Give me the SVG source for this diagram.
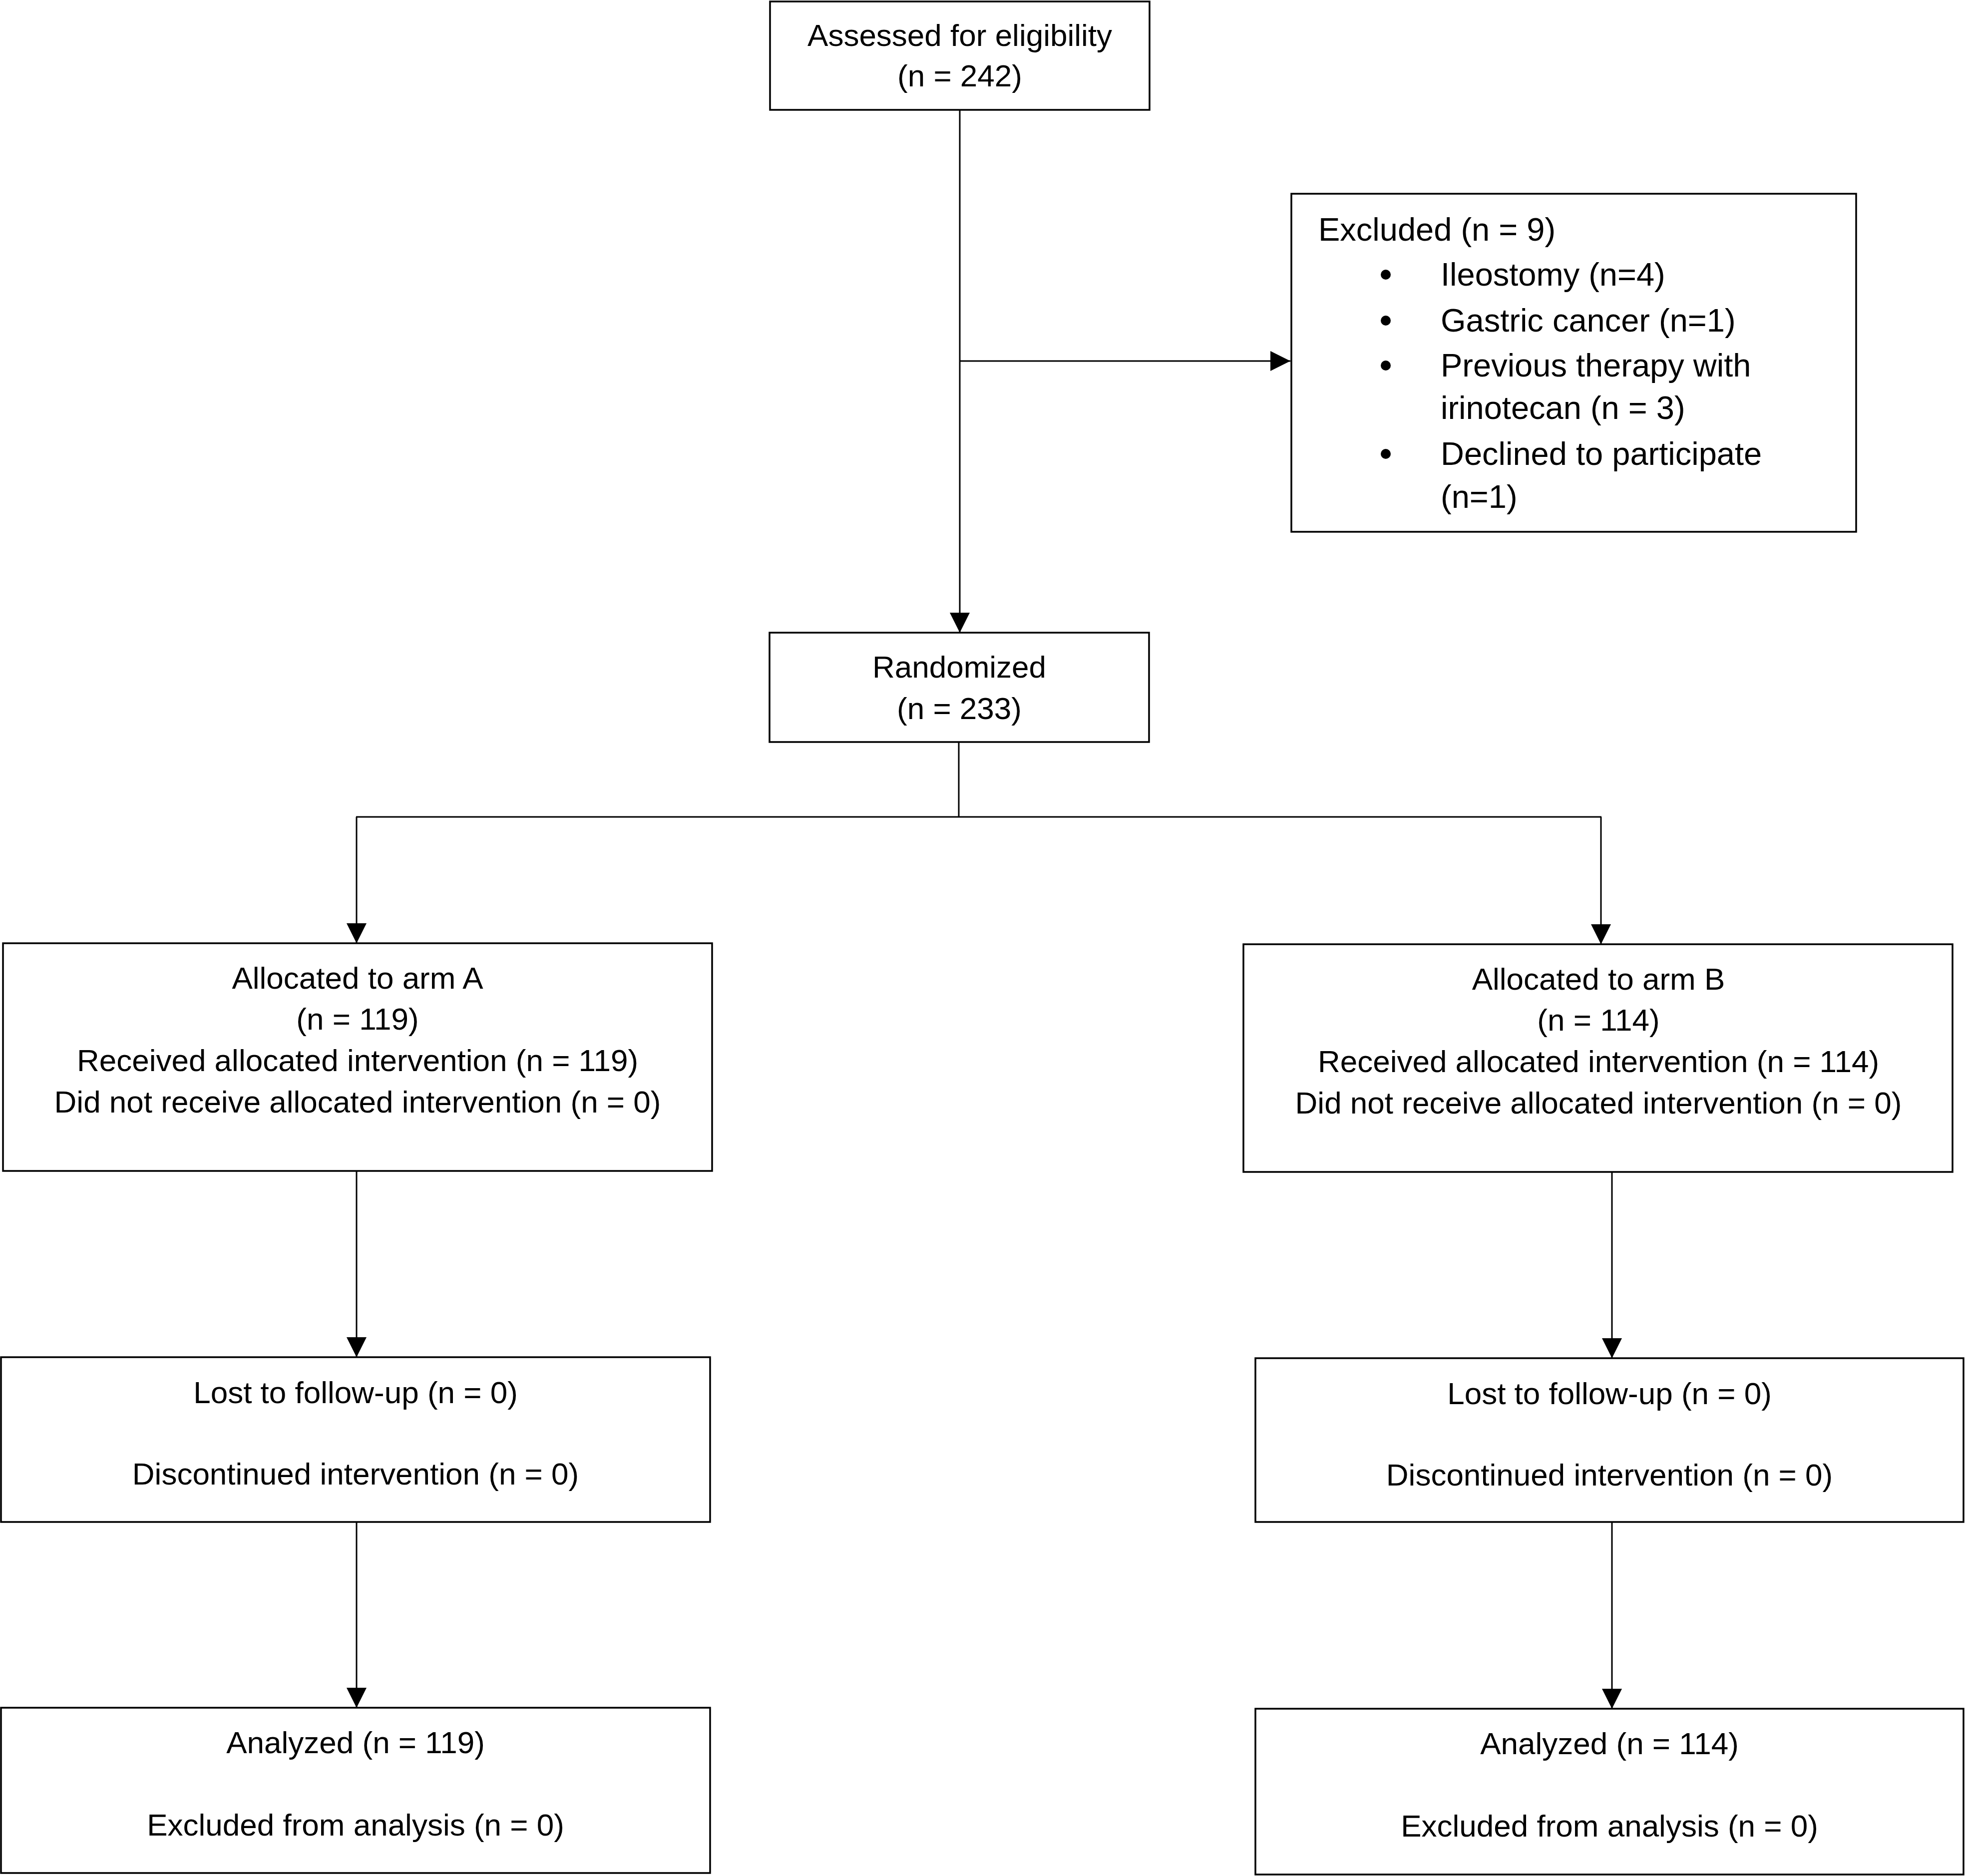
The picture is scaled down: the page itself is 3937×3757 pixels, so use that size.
<svg xmlns="http://www.w3.org/2000/svg" width="3937" height="3757" viewBox="0 0 3937 3757">
  <style>
    .box { fill: #ffffff; stroke: #000000; stroke-width: 3.5; }
    .conn { fill: none; stroke: #000000; stroke-width: 3; }
    .t { font-family: "Liberation Sans", Arial, sans-serif; font-size: 62px; fill: #000000; text-anchor: middle; }
    .tl { font-family: "Liberation Sans", Arial, sans-serif; font-size: 65px; fill: #000000; text-anchor: start; }
    .bullet { fill: #000000; }
  </style>
  <defs>
    <marker id="arrow" markerUnits="userSpaceOnUse" viewBox="0 0 40 40" markerWidth="40" markerHeight="40" refX="40" refY="20" orient="auto">
      <path d="M0,0 L40,20 L0,40 Z" fill="#000000"/>
    </marker>
  </defs>
  <rect x="0" y="0" width="3937" height="3757" fill="#ffffff"/>

  <g id="connectors">
    <line class="conn" x1="1922" y1="220" x2="1922" y2="1267" marker-end="url(#arrow)"/>
    <line class="conn" x1="1922" y1="723" x2="2584" y2="723" marker-end="url(#arrow)"/>
    <line class="conn" x1="1920" y1="1486" x2="1920" y2="1636"/>
    <line class="conn" x1="713" y1="1636" x2="3207" y2="1636"/>
    <line class="conn" x1="714" y1="1636" x2="714" y2="1889" marker-end="url(#arrow)"/>
    <line class="conn" x1="3206" y1="1636" x2="3206" y2="1891" marker-end="url(#arrow)"/>
    <line class="conn" x1="714" y1="2345" x2="714" y2="2718" marker-end="url(#arrow)"/>
    <line class="conn" x1="714" y1="3048" x2="714" y2="3420" marker-end="url(#arrow)"/>
    <line class="conn" x1="3228" y1="2347" x2="3228" y2="2720" marker-end="url(#arrow)"/>
    <line class="conn" x1="3228" y1="3048" x2="3228" y2="3422" marker-end="url(#arrow)"/>
  </g>

  <g id="assessed">
    <rect class="box" x="1542" y="3" width="760" height="217"/>
    <text class="t" x="1922" y="92">Assessed for eligibility</text>
    <text class="t" x="1922" y="173">(n = 242)</text>
  </g>

  <g id="excluded">
    <rect class="box" x="2586" y="388" width="1131" height="677"/>
    <text class="tl" x="2640" y="482">Excluded (n = 9)</text>
    <circle class="bullet" cx="2775" cy="550" r="10"/>
    <text class="tl" x="2885" y="572">Ileostomy (n=4)</text>
    <circle class="bullet" cx="2775" cy="642" r="10"/>
    <text class="tl" x="2885" y="664">Gastric cancer (n=1)</text>
    <circle class="bullet" cx="2775" cy="732" r="10"/>
    <text class="tl" x="2885" y="754">Previous therapy with</text>
    <text class="tl" x="2885" y="839">irinotecan (n = 3)</text>
    <circle class="bullet" cx="2775" cy="909" r="10"/>
    <text class="tl" x="2885" y="931">Declined to participate</text>
    <text class="tl" x="2885" y="1017">(n=1)</text>
  </g>

  <g id="randomized">
    <rect class="box" x="1541" y="1267" width="760" height="219"/>
    <text class="t" x="1921" y="1357">Randomized</text>
    <text class="t" x="1921" y="1440">(n = 233)</text>
  </g>

  <g id="armA">
    <rect class="box" x="6" y="1889" width="1420" height="456"/>
    <text class="t" x="716" y="1980">Allocated to arm A</text>
    <text class="t" x="716" y="2062">(n = 119)</text>
    <text class="t" x="716" y="2145">Received allocated intervention (n = 119)</text>
    <text class="t" x="716" y="2228">Did not receive allocated intervention (n = 0)</text>
  </g>

  <g id="armB">
    <rect class="box" x="2490" y="1891" width="1420" height="456"/>
    <text class="t" x="3201" y="1982">Allocated to arm B</text>
    <text class="t" x="3201" y="2064">(n = 114)</text>
    <text class="t" x="3201" y="2147">Received allocated intervention (n = 114)</text>
    <text class="t" x="3201" y="2230">Did not receive allocated intervention (n = 0)</text>
  </g>

  <g id="lostA">
    <rect class="box" x="2" y="2718" width="1420" height="330"/>
    <text class="t" x="712" y="2810">Lost to follow-up (n = 0)</text>
    <text class="t" x="712" y="2973">Discontinued intervention (n = 0)</text>
  </g>

  <g id="lostB">
    <rect class="box" x="2514" y="2720" width="1418" height="328"/>
    <text class="t" x="3223" y="2812">Lost to follow-up (n = 0)</text>
    <text class="t" x="3223" y="2975">Discontinued intervention (n = 0)</text>
  </g>

  <g id="analyzedA">
    <rect class="box" x="2" y="3420" width="1420" height="331"/>
    <text class="t" x="712" y="3511">Analyzed (n = 119)</text>
    <text class="t" x="712" y="3676">Excluded from analysis (n = 0)</text>
  </g>

  <g id="analyzedB">
    <rect class="box" x="2514" y="3422" width="1418" height="332"/>
    <text class="t" x="3223" y="3513">Analyzed (n = 114)</text>
    <text class="t" x="3223" y="3678">Excluded from analysis (n = 0)</text>
  </g>
</svg>
